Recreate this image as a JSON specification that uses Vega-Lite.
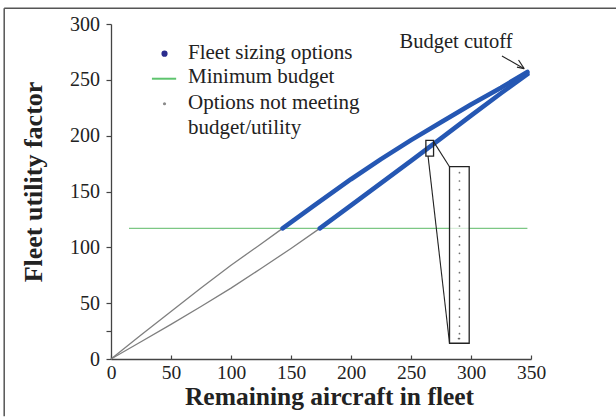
{
  "$schema": "https://vega.github.io/schema/vega-lite/v6.json",
  "width": 420,
  "height": 335,
  "autosize": {"type": "none"},
  "padding": {"left": 111, "top": 24, "right": 85, "bottom": 58},
  "background": "white",
  "config": {"view": {"stroke": null}, "font": "Liberation Serif"},
  "datasets": {
    "curves": [
      {"x": 0, "y": 0, "series": "upper", "type": "Options not meeting budget/utility"},
      {"x": 25, "y": 21.5, "series": "upper", "type": "Options not meeting budget/utility"},
      {"x": 50, "y": 42.5, "series": "upper", "type": "Options not meeting budget/utility"},
      {"x": 75, "y": 63.5, "series": "upper", "type": "Options not meeting budget/utility"},
      {"x": 100, "y": 84, "series": "upper", "type": "Options not meeting budget/utility"},
      {"x": 125, "y": 103, "series": "upper", "type": "Options not meeting budget/utility"},
      {"x": 143, "y": 117, "series": "upper", "type": "Options not meeting budget/utility"},
      {"x": 143, "y": 117, "series": "upper", "type": "Fleet sizing options"},
      {"x": 170, "y": 138, "series": "upper", "type": "Fleet sizing options"},
      {"x": 200, "y": 161, "series": "upper", "type": "Fleet sizing options"},
      {"x": 225, "y": 179, "series": "upper", "type": "Fleet sizing options"},
      {"x": 250, "y": 196, "series": "upper", "type": "Fleet sizing options"},
      {"x": 275, "y": 212, "series": "upper", "type": "Fleet sizing options"},
      {"x": 300, "y": 228, "series": "upper", "type": "Fleet sizing options"},
      {"x": 325, "y": 243, "series": "upper", "type": "Fleet sizing options"},
      {"x": 347, "y": 257, "series": "upper", "type": "Fleet sizing options"},
      {"x": 0, "y": 0, "series": "lower", "type": "Options not meeting budget/utility"},
      {"x": 25, "y": 15.5, "series": "lower", "type": "Options not meeting budget/utility"},
      {"x": 50, "y": 31, "series": "lower", "type": "Options not meeting budget/utility"},
      {"x": 75, "y": 47, "series": "lower", "type": "Options not meeting budget/utility"},
      {"x": 100, "y": 63.5, "series": "lower", "type": "Options not meeting budget/utility"},
      {"x": 125, "y": 81, "series": "lower", "type": "Options not meeting budget/utility"},
      {"x": 150, "y": 99, "series": "lower", "type": "Options not meeting budget/utility"},
      {"x": 174, "y": 117, "series": "lower", "type": "Options not meeting budget/utility"},
      {"x": 174, "y": 117, "series": "lower", "type": "Fleet sizing options"},
      {"x": 200, "y": 137.5, "series": "lower", "type": "Fleet sizing options"},
      {"x": 225, "y": 157.5, "series": "lower", "type": "Fleet sizing options"},
      {"x": 250, "y": 177.5, "series": "lower", "type": "Fleet sizing options"},
      {"x": 275, "y": 197.5, "series": "lower", "type": "Fleet sizing options"},
      {"x": 300, "y": 218, "series": "lower", "type": "Fleet sizing options"},
      {"x": 325, "y": 238, "series": "lower", "type": "Fleet sizing options"},
      {"x": 347, "y": 255, "series": "lower", "type": "Fleet sizing options"}
    ],
    "budget": [{"x": 15, "x2": 347, "y": 117}],
    "zoomSmall": [{"x": 262.4, "x2": 268.8, "y": 181.7, "y2": 195.8}],
    "zoomBig": [{"x": 282.1, "x2": 298.5, "y": 14.1, "y2": 172.2}],
    "connectors": [
      {"x": 268.8, "y": 194.7, "x2": 282.1, "y2": 172.2},
      {"x": 264.2, "y": 181.7, "x2": 282.1, "y2": 14.1}
    ],
    "zoomDots": [
      {"x": 290.4, "y": 166.9}, {"x": 290.4, "y": 159.4}, {"x": 290.4, "y": 151.6},
      {"x": 290.4, "y": 142.1}, {"x": 290.4, "y": 134.0}, {"x": 290.4, "y": 126.6},
      {"x": 290.4, "y": 119.1}, {"x": 290.4, "y": 109.6}, {"x": 290.4, "y": 102.1},
      {"x": 290.4, "y": 94.6}, {"x": 290.4, "y": 87.2}, {"x": 290.4, "y": 77.3},
      {"x": 290.4, "y": 69.8}, {"x": 290.4, "y": 61.2}, {"x": 290.4, "y": 53.4},
      {"x": 290.4, "y": 45.1}, {"x": 290.4, "y": 37.6}, {"x": 290.4, "y": 29.5},
      {"x": 290.4, "y": 22.7}, {"x": 290.4, "y": 18.3}, {"x": 289.6, "y": 18.3}
    ],
    "arrow": [
      {"x": 325.8, "y": 271.3, "x2": 344.3, "y2": 260.0},
      {"x": 339.6, "y": 267.7, "x2": 344.3, "y2": 260.0},
      {"x": 338.3, "y": 261.4, "x2": 344.3, "y2": 260.0}
    ],
    "note": [{"x": 287.5, "y": 278.8, "text": "Budget cutoff"}],
    "legendTexts": [
      {"x": 64.2, "y": 268.9, "text": "Fleet sizing options"},
      {"x": 64.2, "y": 247.4, "text": "Minimum budget"},
      {"x": 64.2, "y": 224.2, "text": "Options not meeting"},
      {"x": 64.2, "y": 201.2, "text": "budget/utility"}
    ],
    "legendSymbols": [
      {"x": 44.6, "y": 273.4, "type": "Fleet sizing options"},
      {"x": 44.6, "y": 228.6, "type": "Options not meeting budget/utility"}
    ],
    "legendLine": [{"x": 34.1, "x2": 54.3, "y": 251, "type": "Minimum budget"}],
    "frame": [
      {"x": -89, "x2": 421, "y": 314, "y2": 314},
      {"x": -89, "x2": -89, "y": 314, "y2": -51.2}
    ]
  },
  "layer": [
    {
      "data": {"name": "frame"},
      "mark": {"type": "rule", "color": "#555555", "strokeWidth": 1.5, "clip": false},
      "encoding": {
        "x": {"field": "x", "type": "quantitative"},
        "x2": {"field": "x2"},
        "y": {"field": "y", "type": "quantitative"},
        "y2": {"field": "y2"}
      }
    },
    {
      "data": {"name": "budget"},
      "mark": {"type": "rule", "strokeWidth": 1.4, "color": "#7cc784"},
      "encoding": {
        "x": {"field": "x", "type": "quantitative"},
        "x2": {"field": "x2"},
        "y": {"field": "y", "type": "quantitative"}
      }
    },
    {
      "data": {"name": "curves"},
      "transform": [{"filter": "datum.type == 'Options not meeting budget/utility'"}],
      "mark": {"type": "line", "strokeWidth": 1.3, "color": "#7f7f7f"},
      "encoding": {
        "x": {"field": "x", "type": "quantitative"},
        "y": {"field": "y", "type": "quantitative"},
        "detail": {"field": "series"}
      }
    },
    {
      "data": {"name": "curves"},
      "transform": [{"filter": "datum.type == 'Fleet sizing options'"}],
      "mark": {"type": "line", "strokeWidth": 4.6, "strokeCap": "round", "strokeJoin": "round", "color": "#2557b3"},
      "encoding": {
        "x": {"field": "x", "type": "quantitative"},
        "y": {"field": "y", "type": "quantitative"},
        "detail": {"field": "series"}
      }
    },
    {
      "data": {"name": "zoomBig"},
      "mark": {"type": "rect", "fill": "white", "fillOpacity": 0.7, "stroke": "#222222", "strokeWidth": 1.3},
      "encoding": {
        "x": {"field": "x", "type": "quantitative"},
        "x2": {"field": "x2"},
        "y": {"field": "y", "type": "quantitative"},
        "y2": {"field": "y2"}
      }
    },
    {
      "data": {"name": "zoomSmall"},
      "mark": {"type": "rect", "fill": "transparent", "stroke": "#222222", "strokeWidth": 1.3},
      "encoding": {
        "x": {"field": "x", "type": "quantitative"},
        "x2": {"field": "x2"},
        "y": {"field": "y", "type": "quantitative"},
        "y2": {"field": "y2"}
      }
    },
    {
      "data": {"name": "connectors"},
      "mark": {"type": "rule", "color": "#222222", "strokeWidth": 1.1},
      "encoding": {
        "x": {"field": "x", "type": "quantitative"},
        "x2": {"field": "x2"},
        "y": {"field": "y", "type": "quantitative"},
        "y2": {"field": "y2"}
      }
    },
    {
      "data": {"name": "zoomDots"},
      "mark": {"type": "point", "filled": true, "color": "#333333", "size": 3},
      "encoding": {
        "x": {"field": "x", "type": "quantitative"},
        "y": {"field": "y", "type": "quantitative"}
      }
    },
    {
      "data": {"name": "arrow"},
      "mark": {"type": "rule", "color": "#222222", "strokeWidth": 1.1},
      "encoding": {
        "x": {"field": "x", "type": "quantitative"},
        "x2": {"field": "x2"},
        "y": {"field": "y", "type": "quantitative"},
        "y2": {"field": "y2"}
      }
    },
    {
      "data": {"name": "legendLine"},
      "mark": {"type": "rule", "color": "#5ec46e", "strokeWidth": 2},
      "encoding": {
        "x": {"field": "x", "type": "quantitative"},
        "x2": {"field": "x2"},
        "y": {"field": "y", "type": "quantitative"}
      }
    },
    {
      "data": {"name": "legendSymbols"},
      "mark": {"type": "circle", "opacity": 1},
      "encoding": {
        "x": {"field": "x", "type": "quantitative"},
        "y": {"field": "y", "type": "quantitative"},
        "color": {
          "field": "type",
          "type": "nominal",
          "scale": {"domain": ["Fleet sizing options", "Options not meeting budget/utility"], "range": ["#2b2d8e", "#8a8a8a"]},
          "legend": null
        },
        "size": {
          "field": "type",
          "type": "nominal",
          "scale": {"domain": ["Fleet sizing options", "Options not meeting budget/utility"], "range": [38, 10]},
          "legend": null
        }
      }
    },
    {
      "data": {"name": "legendTexts"},
      "mark": {"type": "text", "font": "Liberation Serif", "fontSize": 21, "color": "#222222", "baseline": "alphabetic", "align": "left"},
      "encoding": {
        "x": {"field": "x", "type": "quantitative"},
        "y": {"field": "y", "type": "quantitative"},
        "text": {"field": "text"}
      }
    },
    {
      "data": {"name": "note"},
      "mark": {"type": "text", "font": "Liberation Serif", "fontSize": 20.5, "color": "#222222", "baseline": "alphabetic", "align": "center"},
      "encoding": {
        "x": {"field": "x", "type": "quantitative"},
        "y": {"field": "y", "type": "quantitative"},
        "text": {"field": "text"}
      }
    }
  ],
  "encoding": {
    "x": {
      "type": "quantitative",
      "scale": {"domain": [0, 350], "nice": false, "zero": false},
      "axis": {
        "values": [0, 50, 100, 150, 200, 250, 300, 350],
        "grid": false,
        "domainColor": "#444444",
        "domainWidth": 1.3,
        "tickColor": "#444444",
        "tickSize": -4,
        "tickWidth": 1.2,
        "labelFont": "Liberation Serif",
        "labelFontSize": 19.5,
        "labelColor": "#222222",
        "labelPadding": 8.5,
        "labelFlush": false,
        "title": "Remaining aircraft in fleet",
        "titleFont": "Liberation Serif",
        "titleFontSize": 25.5,
        "titleFontWeight": "bold",
        "titleColor": "#222222",
        "titleBaseline": "alphabetic",
        "titleX": 218,
        "titleY": 45
      }
    },
    "y": {
      "type": "quantitative",
      "scale": {"domain": [0, 300], "nice": false, "zero": false},
      "axis": {
        "values": [0, 25, 50, 100, 150, 200, 250, 300],
        "labelExpr": "datum.value == 25 ? '' : datum.label",
        "grid": false,
        "domainColor": "#444444",
        "domainWidth": 1.3,
        "tickColor": "#444444",
        "tickSize": 5,
        "tickWidth": 1.2,
        "labelFont": "Liberation Serif",
        "labelFontSize": 20,
        "labelColor": "#222222",
        "labelPadding": 6.5,
        "labelFlush": false,
        "title": "Fleet utility factor",
        "titleFont": "Liberation Serif",
        "titleFontSize": 26,
        "titleFontWeight": "bold",
        "titleColor": "#222222",
        "titleBaseline": "alphabetic",
        "titleX": -69.5,
        "titleY": 157.5
      }
    }
  }
}
